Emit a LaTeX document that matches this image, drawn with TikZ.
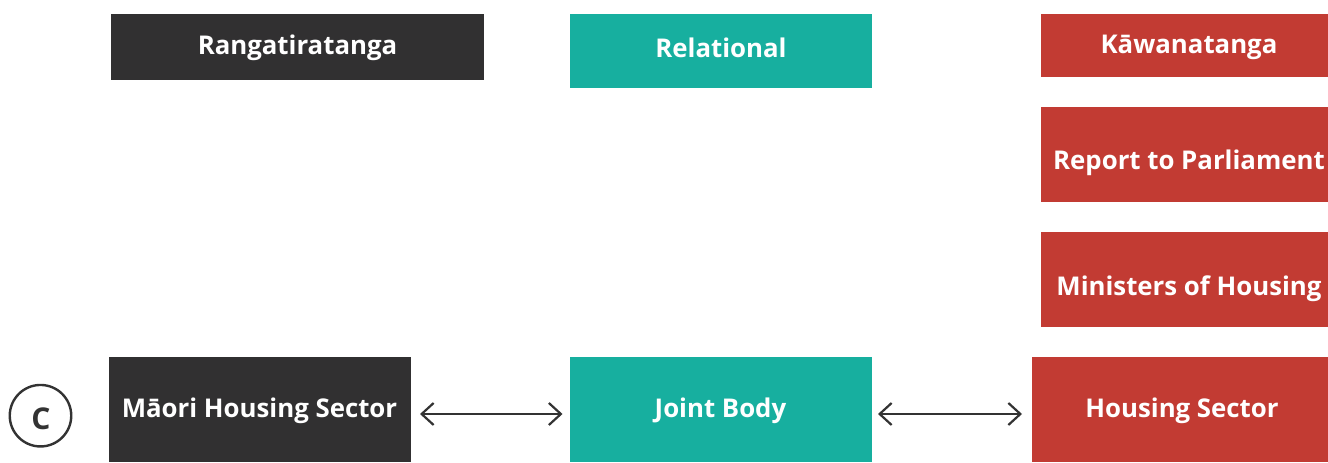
\documentclass[tikz,border=0pt]{standalone}
\usepackage{fontspec}
\setmainfont{Open Sans}
\usetikzlibrary{arrows.meta}
\definecolor{darkbox}{HTML}{313031}
\definecolor{tealbox}{HTML}{17AF9F}
\definecolor{redbox}{HTML}{C23B33}
\definecolor{arrowgrey}{HTML}{333333}
\tikzset{
  boxlabel/.style={font=\fontsize{25.8}{30}\selectfont\bfseries, text=white, inner sep=0pt, anchor=base},
  barb/.tip={Straight Barb[length=12pt,width=22pt,line width=2.2pt]},
  link/.style={draw=arrowgrey, line width=2.2pt, barb-barb},
}
\begin{document}
\begin{tikzpicture}[x=1pt,y=-1pt]
  \useasboundingbox (0,0) rectangle (1328,463);
  % column headings
  \fill[darkbox] (111,14) rectangle (484,80);
  \node[boxlabel] (rang) at (297.5,54.3) {Rangatiratanga};
  \fill[tealbox] (570,14) rectangle (872,88);
  \node[boxlabel] (rel) at (721,57.3) {Relational};
  \fill[redbox] (1041,14) rectangle (1328,77);
  \node[boxlabel] (kaw) at (1189,53.3) {Kāwanatanga};
  % government side
  \fill[redbox] (1041,107) rectangle (1328,202);
  \node[boxlabel] (report) at (1189,169.3) {Report to Parliament};
  \fill[redbox] (1041,232) rectangle (1328,327);
  \node[boxlabel] (min) at (1189,295.3) {Ministers of Housing};
  % bottom row
  \fill[darkbox] (109,357) rectangle (411,462);
  \node[boxlabel] (maori) at (259.5,417.5) {Māori Housing Sector};
  \fill[tealbox] (570,357) rectangle (872,462);
  \node[boxlabel] (joint) at (720.5,417.5) {Joint Body};
  \fill[redbox] (1032,357) rectangle (1328,462);
  \node[boxlabel] (hs) at (1182,417) {Housing Sector};
  \coordinate (a1) at (420,414);
  \coordinate (a2) at (562.5,414);
  \coordinate (b1) at (878,414);
  \coordinate (b2) at (1022,414);
  \draw[link] (a1) -- (a2);
  \draw[link] (b1) -- (b2);
  % option marker
  \node[draw=arrowgrey, line width=2.4pt, circle, minimum size=61.5pt, inner sep=0pt] (opt) at (40.5,415.7) {};
  \node[font=\fontsize{30}{34}\selectfont\bfseries, text=arrowgrey, inner sep=0pt, anchor=base] (optlabel) at (41,429.3) {C};
\end{tikzpicture}
\end{document}
